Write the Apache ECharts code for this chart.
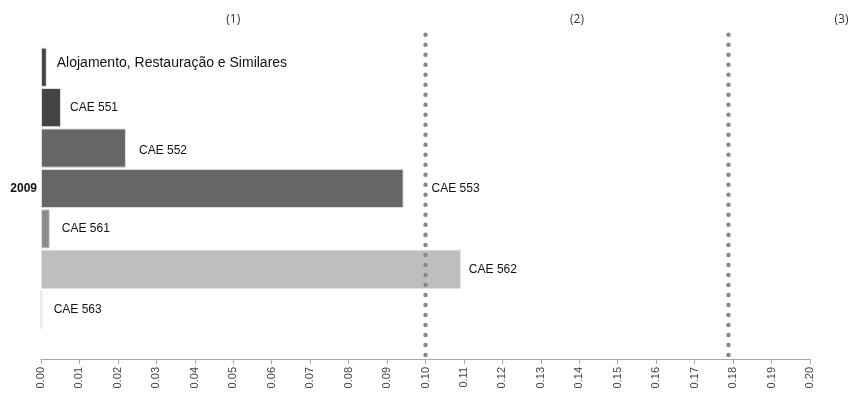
<!DOCTYPE html>
<html><head><meta charset="utf-8">
<script src="https://cdn.jsdelivr.net/npm/echarts@6/dist/echarts.min.js"></script>
<style>html,body{margin:0;padding:0;background:#fff}#c{width:850px;height:398px}</style>
</head><body><div id="c"></div>
<script>
var categories = ["Alojamento, Restauração e Similares","CAE 551","CAE 552","CAE 553","CAE 561","CAE 562","CAE 563"];
var values = [0.0015, 0.0052, 0.0221, 0.0943, 0.0023, 0.1092, 0.0001];
var groupLabel = "2009";
var refLines = [0.10, 0.1788];
var regionLabels = ["(1)","(2)","(3)"];
var regionPositions = [0.05, 0.1394, 0.2082];
var tickValues = [0,0.2,0.01];

var colors = ["#444444","#444444","#666666","#666666","#8c8c8c","#bebebe","#f4f4f4"];
var labelDist = [10,9,13,28,12,8,12];
var labelSize = [14,12,12,12,12,12,12];
var labelDy = [-4,0,3,0,0,0,0];

var chart = echarts.init(document.getElementById('c'), null, {renderer:'canvas'});
var barData = values.map(function(v,i){
  return {value:v, itemStyle:{color:colors[i]},
    label:{show:true, position:'right', distance:labelDist[i], fontSize:labelSize[i], offset:[0,labelDy[i]],
      formatter: categories[i]}};
});
var series = [
  {type:'bar', xAxisIndex:0, yAxisIndex:0, data:barData, barCategoryGap:'3%',
   itemStyle:{borderColor:'#e0e0e0', borderWidth:1},
   label:{color:'#111', fontFamily:'Liberation Sans'}, silent:true, z:2}
];
refLines.forEach(function(v){
  series.push({type:'line', xAxisIndex:1, yAxisIndex:1, data:[[v,0],[v,1]], symbol:'none', silent:true, z:5,
    clip:false, lineStyle:{color:'#888888', width:4.5, type:[0.01,10], cap:'round'}});
});
var option = {
  animation:false,
  backgroundColor:'#fff',
  grid:[
    {left:41, right:40, top:47, bottom:68},
    {left:41, right:40, top:31, bottom:43}
  ],
  xAxis:[
    {type:'value', gridIndex:0, min:tickValues[0], max:tickValues[1], interval:tickValues[2], offset:29,
     splitLine:{show:false},
     axisLine:{show:true, lineStyle:{color:'#aaaaaa', width:1}},
     axisTick:{show:true, length:5, lineStyle:{color:'#aaaaaa'}},
     axisLabel:{rotate:90, fontSize:11, color:'#444', fontFamily:'Liberation Sans', margin:8,
       formatter:function(v){return v.toFixed(2);}}},
    {type:'value', gridIndex:1, min:tickValues[0], max:tickValues[1], show:false}
  ],
  yAxis:[
    {type:'category', gridIndex:0, data:categories, inverse:true, show:false},
    {type:'value', gridIndex:1, min:0, max:1, show:false}
  ],
  series:series
};
chart.setOption(option);
var g = [];
regionLabels.forEach(function(t,i){
  var px = chart.convertToPixel({xAxisIndex:1}, regionPositions[i]);
  g.push({type:'text', x:px, y:20, style:{text:t, fill:'#333', font:'12px "Open Sans"', textAlign:'center', textVerticalAlign:'middle'}});
});
var yTop = chart.convertToPixel({yAxisIndex:0}, 0);
var yBot = chart.convertToPixel({yAxisIndex:0}, categories.length-1);
g.push({type:'text', x:37, y:(yTop+yBot)/2, style:{text:groupLabel, fill:'#111', font:'bold 12px "Liberation Sans"', textAlign:'right', textVerticalAlign:'middle'}});
chart.setOption({graphic:g});
</script>
</body></html>
